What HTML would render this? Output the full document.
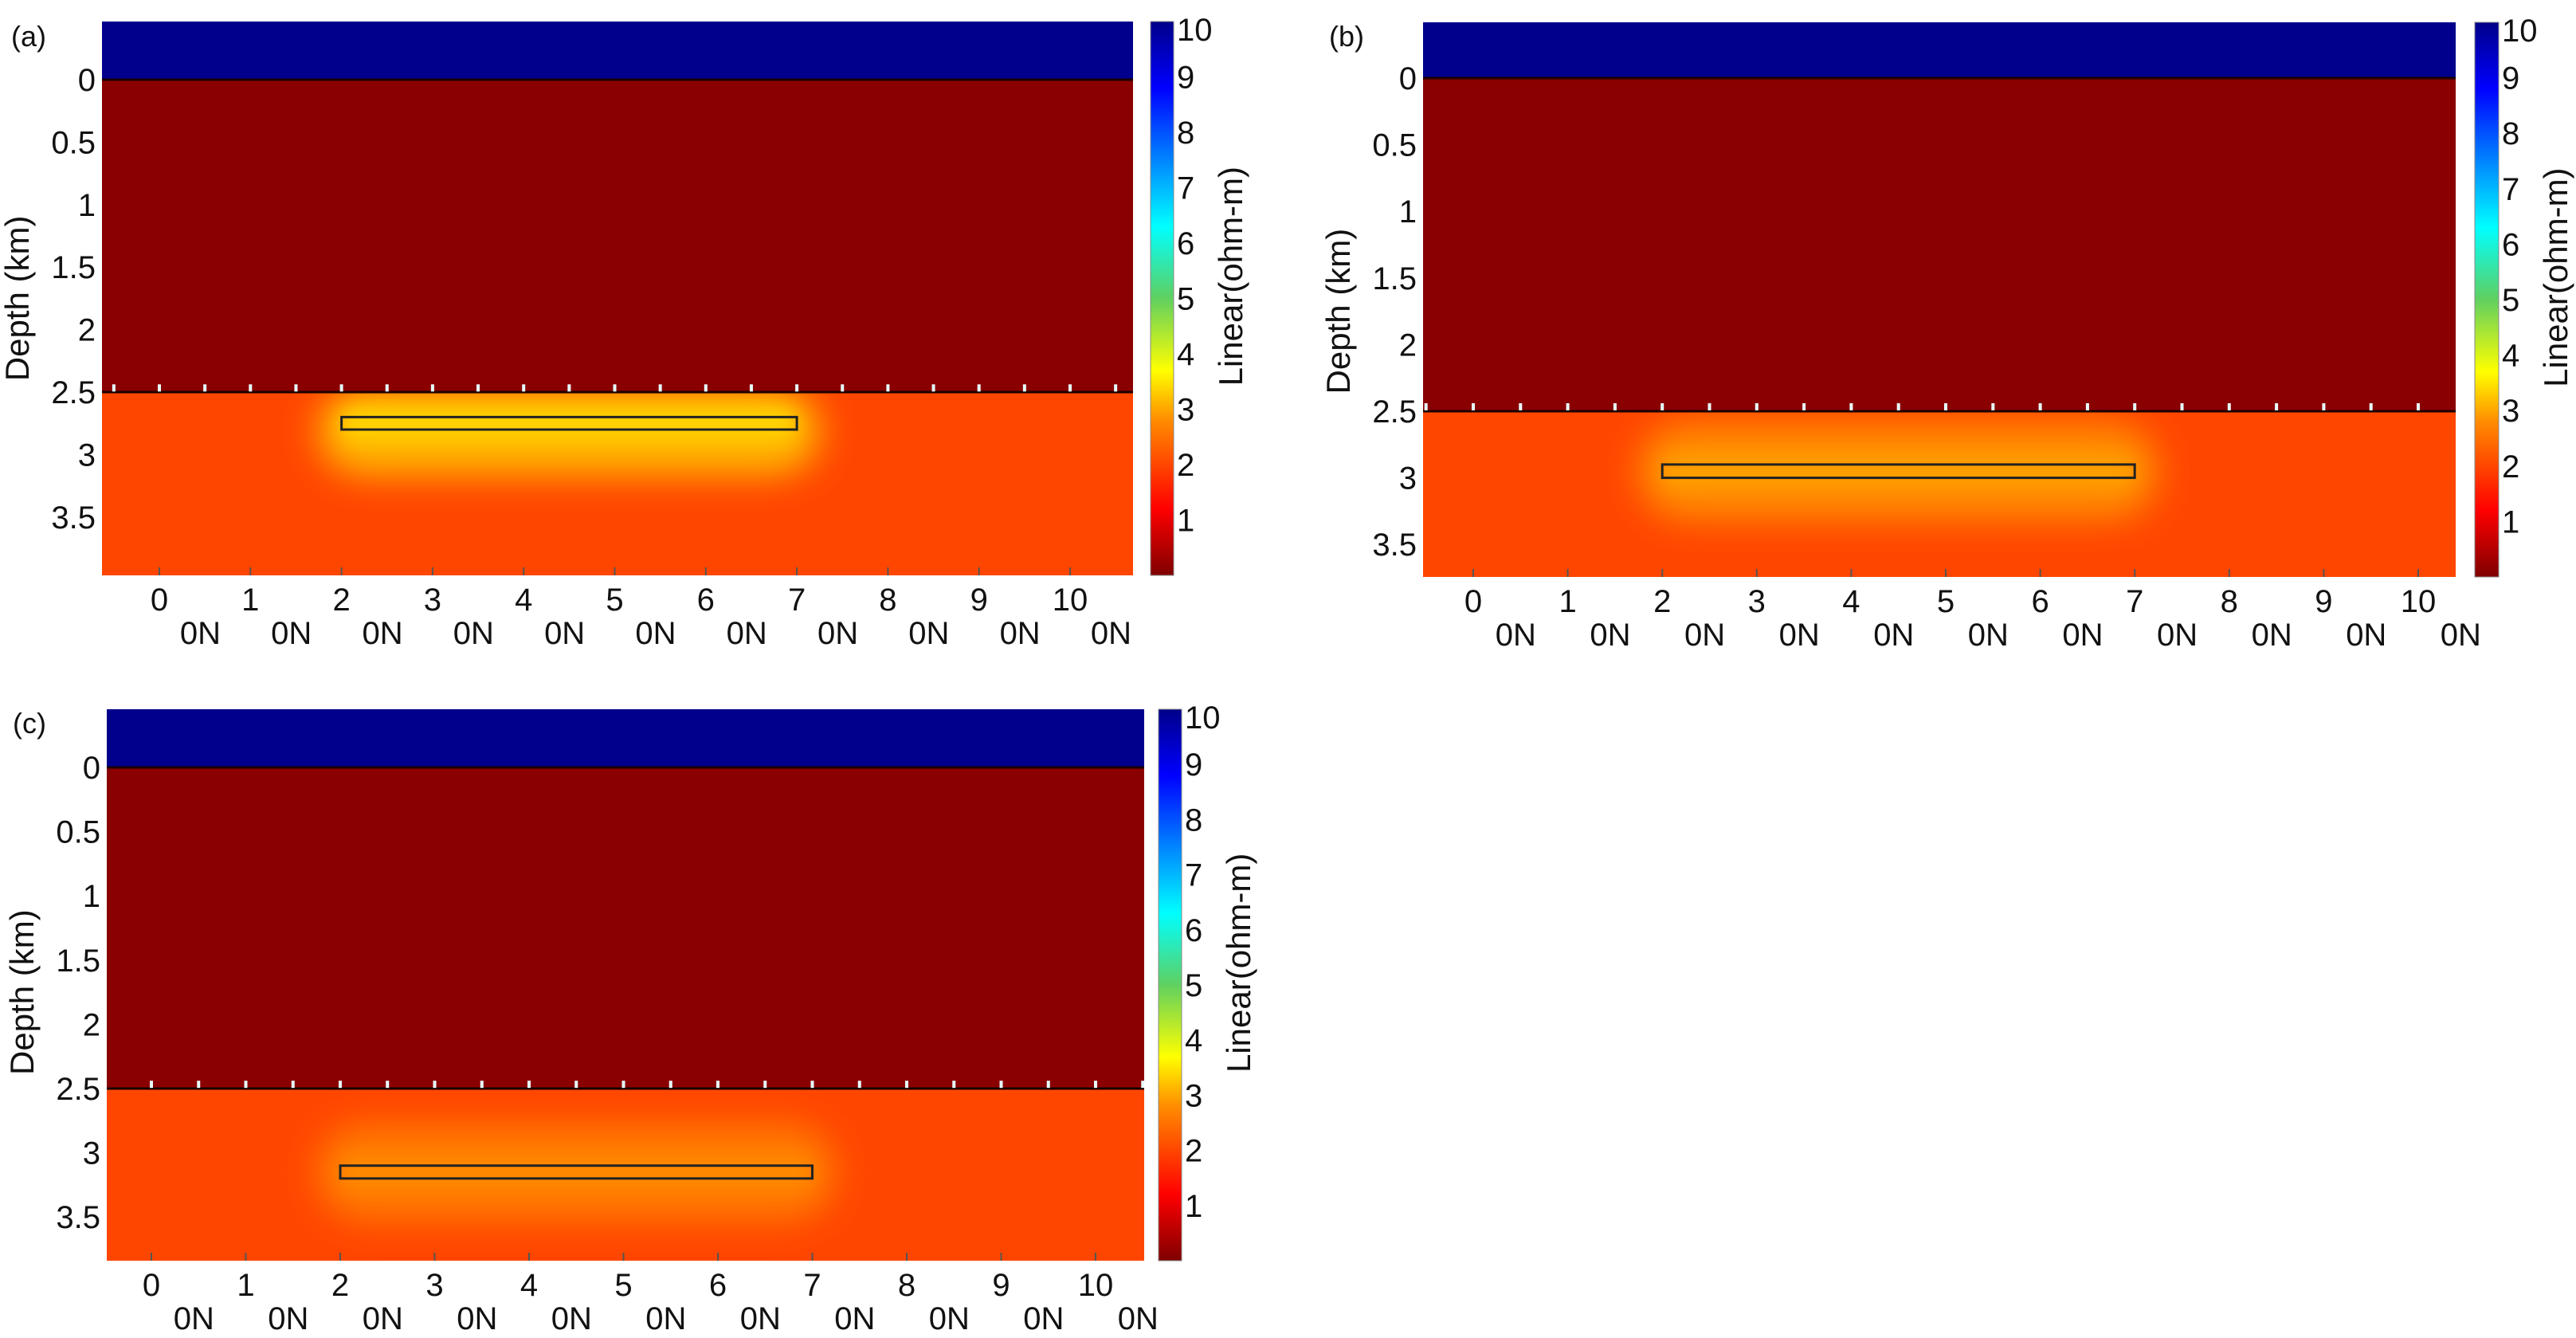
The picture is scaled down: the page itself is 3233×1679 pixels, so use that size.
<!DOCTYPE html>
<html><head><meta charset="utf-8">
<style>
html,body{margin:0;padding:0;background:#fff;}
body{width:3233px;height:1679px;overflow:hidden;position:relative;font-family:"Liberation Sans",sans-serif;}
svg{position:absolute;left:0;top:0;}
text{font-family:"Liberation Sans",sans-serif;fill:#111;}
</style></head>
<body>
<svg id="fig" width="3233" height="1679" viewBox="0 0 3233 1679">
<defs>
<linearGradient id="jet" x1="0" y1="1" x2="0" y2="0">
<stop offset="0" stop-color="#7f0000"/>
<stop offset="0.12" stop-color="#ff0000"/>
<stop offset="0.28" stop-color="#ff8c00"/>
<stop offset="0.37" stop-color="#ffff00"/>
<stop offset="0.5" stop-color="#60d060"/>
<stop offset="0.63" stop-color="#00ffff"/>
<stop offset="0.88" stop-color="#0000ff"/>
<stop offset="1" stop-color="#00008a"/>
</linearGradient>
<filter id="blur" x="-50%" y="-50%" width="200%" height="200%"><feGaussianBlur stdDeviation="22"/></filter>
<filter id="blur2" x="-50%" y="-50%" width="200%" height="200%"><feGaussianBlur stdDeviation="12"/></filter>
</defs>
</svg>
<script>
// ---- data ----
const xTicks = [0,1,2,3,4,5,6,7,8,9,10];
const xTickLabels = ["0","1","2","3","4","5","6","7","8","9","10"];
const yTicks = [0,0.5,1,1.5,2,2.5,3,3.5];
const yTickLabels = ["0","0.5","1","1.5","2","2.5","3","3.5"];
const cbTicks = [1,2,3,4,5,6,7,8,9,10];
const layerTops = [-0.5, 0, 2.5];
const layerColors = ["#00008c","#8a0000","#ff4600"];
const receiverX = [-0.5,0,0.5,1,1.5,2,2.5,3,3.5,4,4.5,5,5.5,6,6.5,7,7.5,8,8.5,9,9.5,10,10.5];
const receiverDepth = 2.47;
const bodyX = [2, 7];
const bodyDepthA = [2.70, 2.80];
const bodyDepthB = [2.90, 3.00];
const bodyDepthC = [3.10, 3.20];
const anomalyColorA = "#ffd400";
const anomalyColorB = "#ffa000";
const anomalyColorC = "#ff8a00";

const panels = [
 {id:"a", L:128, R:1422, T:27, B:722, x0:200, x10:1343, y0:100, y25:492, cbL:1444, cbR:1473, body:bodyDepthA, col:anomalyColorA, lab:"(a)", labX:14, labY:58},
 {id:"b", L:1786, R:3082, T:28, B:724, x0:1849, x10:3035, y0:98, y25:516, cbL:3106, cbR:3136, body:bodyDepthB, col:anomalyColorB, lab:"(b)", labX:1668, labY:58},
 {id:"c", L:134, R:1436, T:890, B:1582, x0:190, x10:1375, y0:963, y25:1366, cbL:1454, cbR:1483, body:bodyDepthC, col:anomalyColorC, lab:"(c)", labX:16, labY:920}
];

const NS="http://www.w3.org/2000/svg";
const svg=document.getElementById("fig");
function mk(tag, attrs, parent){const e=document.createElementNS(NS,tag);for(const k in attrs)e.setAttribute(k,attrs[k]);(parent||svg).appendChild(e);return e;}

panels.forEach(p=>{
  const sx=v=>p.x0+(p.x10-p.x0)*v/10;
  const sy=d=>p.y0+(p.y25-p.y0)*d/2.5;
  const g=mk("g",{});
  
  
  const cp=mk("clipPath",{id:"clip"+p.id},g);
  mk("rect",{x:p.L,y:p.T,width:p.R-p.L,height:p.B-p.T},cp);
  const cpl=mk("clipPath",{id:"clipL"+p.id},g);
  mk("rect",{x:p.L,y:sy(2.5),width:p.R-p.L,height:p.B-sy(2.5)},cpl);
  const plot=mk("g",{"clip-path":"url(#clip"+p.id+")"},g);
  
  
  layerTops.forEach((d,i)=>{
    const top=i===0?p.T:sy(d);
    const bot=i<layerTops.length-1?sy(layerTops[i+1]):p.B;
    const r=mk("rect",{x:p.L,y:top,width:p.R-p.L,height:bot-top,fill:layerColors[i]},plot);
    
    
  });
  const low=mk("g",{"clip-path":"url(#clipL"+p.id+")"},plot);
  const cx=sx((bodyX[0]+bodyX[1])/2), cy=sy((p.body[0]+p.body[1])/2);
  const hw=(sx(bodyX[1])-sx(bodyX[0]))/2;
  const hh=p.id==="a"?45:60;
  const halo=mk("rect",{x:cx-hw-30,y:cy-hh,width:2*hw+60,height:2*hh+(p.id==="a"?20:0),rx:60,fill:p.col,opacity:0.8,filter:"url(#blur)"},low);
  
  
  const core=mk("rect",{x:cx-hw,y:cy-18,width:2*hw,height:36,rx:18,fill:p.col,filter:"url(#blur2)"},low);
  
  
  [0,2.5].forEach(d=>{
    const l=mk("line",{x1:p.L,x2:p.R,y1:sy(d),y2:sy(d),stroke:"#1a0000","stroke-width":3},plot);
    
    
  });
  receiverX.forEach(x=>{
    const r=mk("rect",{x:sx(x)-2,y:sy(receiverDepth)-5,width:4,height:9,fill:"#e8ffff"},plot);
    
    
  });
  const b=mk("rect",{x:sx(bodyX[0]),y:sy(p.body[0]),width:sx(bodyX[1])-sx(bodyX[0]),height:sy(p.body[1])-sy(p.body[0]),fill:"none",stroke:"#222","stroke-width":3},plot);
  
  
  xTicks.forEach((v,i)=>{
    const t=mk("line",{x1:sx(v),x2:sx(v),y1:p.B,y2:p.B-10,stroke:"#555","stroke-width":2},g);
    
    
    const tl=mk("text",{x:sx(v),y:p.B+44,"font-size":40,"text-anchor":"middle"},g);
    tl.textContent=xTickLabels[i];
    
    
    const tn=mk("text",{x:sx(v+0.45),y:p.B+86,"font-size":40,"text-anchor":"middle"},g);
    tn.textContent="0N";
    
    
  });
  yTicks.forEach((v,i)=>{
    if(sy(v)>p.B) return;
    const tl=mk("text",{x:p.L-8,y:sy(v)+14,"font-size":40,"text-anchor":"end"},g);
    tl.textContent=yTickLabels[i];
    
    
  });
  const yt=mk("text",{x:0,y:0,"font-size":42,"text-anchor":"middle",transform:`translate(${p.L-92},${sy(1.75)}) rotate(-90)`},g);
  yt.textContent="Depth (km)";
  
  
  const cb=mk("rect",{x:p.cbL,y:p.T,width:p.cbR-p.cbL,height:p.B-p.T,fill:"url(#jet)",stroke:"#888","stroke-width":1},g);
  
  
  const cy2=v=>p.B-(p.B-p.T)*v/10;
  cbTicks.forEach(v=>{
    const tl=mk("text",{x:p.cbR+4,y:cy2(v)+(v===10?24:14),"font-size":40},g);
    tl.textContent=String(v);
    
    
  });
  const ct=mk("text",{x:0,y:0,"font-size":42,"text-anchor":"middle",transform:`translate(${p.cbR+86},${cy2(5.4)}) rotate(-90)`},g);
  ct.textContent="Linear(ohm-m)";
  
  
  const pl=mk("text",{x:p.labX,y:p.labY,"font-size":36},g);
  pl.textContent=p.lab;
  
  
});
</script>
</body></html>
